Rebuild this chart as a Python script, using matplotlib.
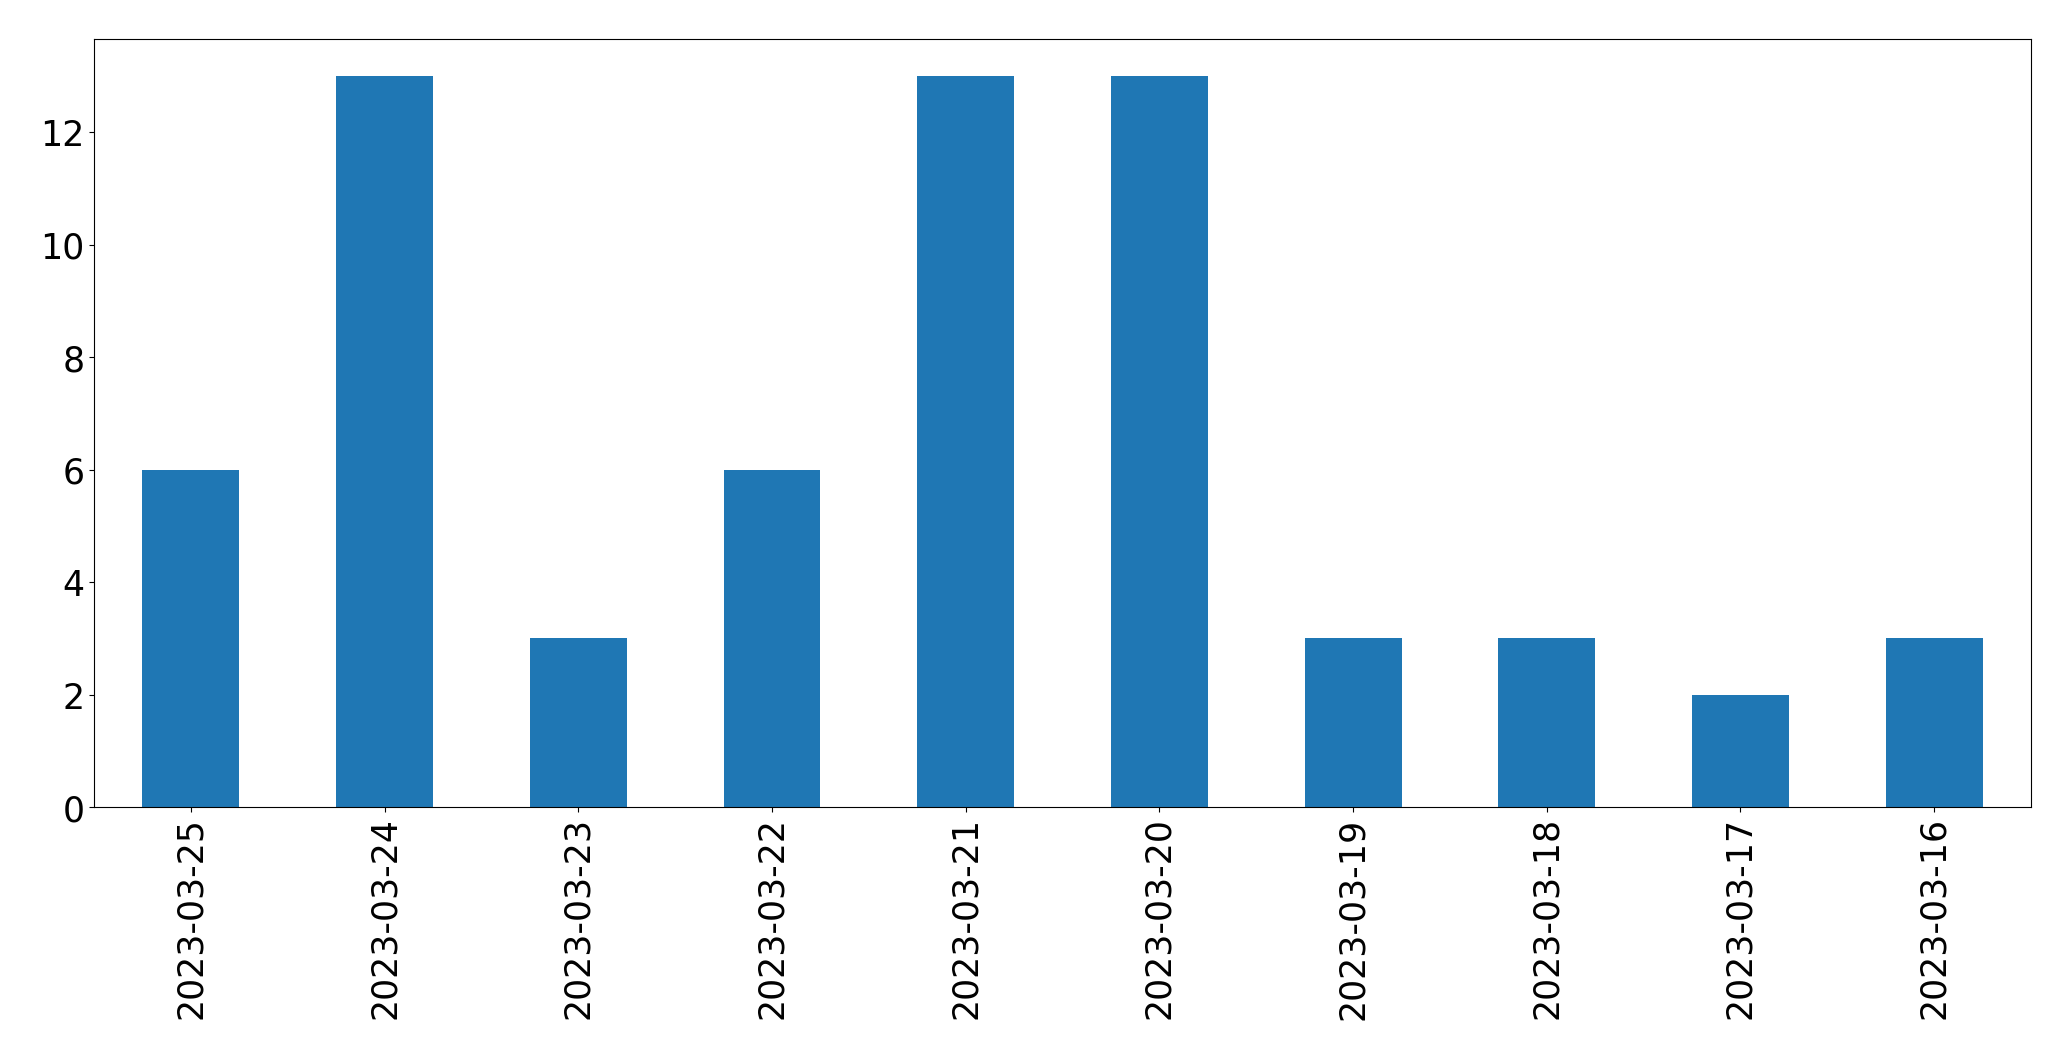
import matplotlib
matplotlib.use('Agg')
import matplotlib.pyplot as plt
import numpy as np

# Counts per day

dates = ['2023-03-25', '2023-03-24', '2023-03-23', '2023-03-22', '2023-03-21',
         '2023-03-20', '2023-03-19', '2023-03-18', '2023-03-17', '2023-03-16']
counts = [6, 13, 3, 6, 13, 13, 3, 3, 2, 3]

fig = plt.figure(figsize=(20.71, 10.605), dpi=100)
ax = fig.add_axes([0.0454, 0.2385, 0.9353, 0.7238])
x = np.arange(len(dates))
ax.bar(x, counts, width=0.5, color='#1f77b4')
ax.set_xlim(-0.5, len(dates) - 0.5)
ax.set_xticks(x)
ax.set_xticklabels(dates, rotation=90)
ax.tick_params(labelsize=25)
fig.savefig('out.png')
print('Saving out.png')
